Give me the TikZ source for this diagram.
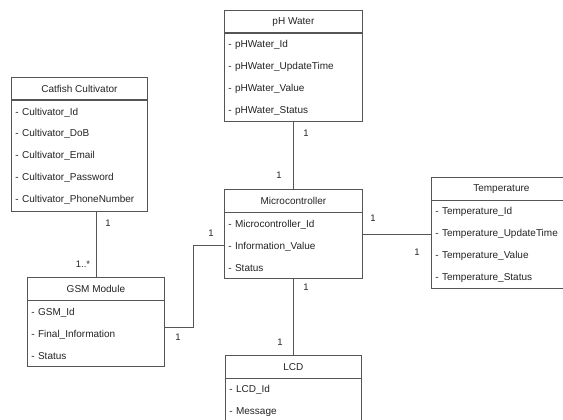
\documentclass[tikz,border=0pt]{standalone}
\usepackage{fontspec}
\setmainfont{Liberation Sans}
\usetikzlibrary{positioning, fit, calc}
\definecolor{umlline}{RGB}{85,85,85}
\definecolor{umltext}{RGB}{35,35,35}
\tikzset{
  classhead/.style={rectangle, draw=umlline, anchor=north west,
    minimum height=22.5pt, inner sep=0pt, text=umltext,
    font=\fontsize{10}{12}\selectfont, line width=0.8pt},
  classbody/.style={rectangle, draw=umlline, minimum height=#1,
    inner xsep=4pt, inner ysep=0pt, align=left, text=umltext,
    font=\fontsize{10}{21.9}\selectfont, line width=0.8pt},
  classbox/.style={inner sep=0pt},
  link/.style={draw=umlline, line width=0.8pt},
  mult/.style={font=\fontsize{9.5}{11}\selectfont, text=umltext}
}

\begin{document}
\begin{tikzpicture}[x=1pt, y=-1pt]
  \useasboundingbox (0,0) rectangle (563,420);
  \clip (0,0) rectangle (563,420);

  % ── Catfish Cultivator ─────────────────────────────────────────────────────
  \node[classhead, minimum width=136pt] (cult head) at (11,77) {Catfish Cultivator};
  \node[classbody=111pt, text width=128pt, below=0pt of cult head] (cult body)
    {- Cultivator\_Id\\- Cultivator\_DoB\\- Cultivator\_Email\\- Cultivator\_Password\\- Cultivator\_PhoneNumber};
  \node[classbox, fit=(cult head)(cult body)] (cult) {};

  % ── pH Water ───────────────────────────────────────────────────────────────
  \node[classhead, minimum width=138pt] (ph head) at (224,10) {pH Water};
  \node[classbody=88pt, text width=130pt, below=0pt of ph head] (ph body)
    {- pHWater\_Id\\- pHWater\_UpdateTime\\- pHWater\_Value\\- pHWater\_Status};
  \node[classbox, fit=(ph head)(ph body)] (ph) {};

  % ── Microcontroller ────────────────────────────────────────────────────────
  \node[classhead, minimum width=138pt] (micro head) at (224,189) {Microcontroller};
  \node[classbody=66pt, text width=130pt, below=0pt of micro head] (micro body)
    {- Microcontroller\_Id\\- Information\_Value\\- Status};
  \node[classbox, fit=(micro head)(micro body)] (micro) {};

  % ── Temperature ────────────────────────────────────────────────────────────
  \node[classhead, minimum width=140pt] (temp head) at (431,177) {Temperature};
  \node[classbody=88pt, text width=132pt, below=0pt of temp head] (temp body)
    {- Temperature\_Id\\- Temperature\_UpdateTime\\- Temperature\_Value\\- Temperature\_Status};
  \node[classbox, fit=(temp head)(temp body)] (temp) {};

  % ── GSM Module ─────────────────────────────────────────────────────────────
  \node[classhead, minimum width=137pt] (gsm head) at (27,277) {GSM Module};
  \node[classbody=66pt, text width=129pt, below=0pt of gsm head] (gsm body)
    {- GSM\_Id\\- Final\_Information\\- Status};
  \node[classbox, fit=(gsm head)(gsm body)] (gsm) {};

  % ── LCD ────────────────────────────────────────────────────────────────────
  \node[classhead, minimum width=136pt] (lcd head) at (225,355) {LCD};
  \node[classbody=44pt, text width=128pt, below=0pt of lcd head] (lcd body)
    {- LCD\_Id\\- Message};
  \node[classbox, fit=(lcd head)(lcd body)] (lcd) {};

  % ── Associations ───────────────────────────────────────────────────────────
  \draw[link] (gsm.north) -- (gsm.north |- cult.south);
  \node[mult] (m cult) at (108,223) {1};
  \node[mult] (m gsm up) at (83,264) {1..*};

  \draw[link] (ph.south) -- (micro.north);
  \node[mult] (m ph) at (306,133) {1};
  \node[mult] (m micro up) at (279,175) {1};

  \draw[link] (micro.east) -- (micro.east -| temp.west);
  \node[mult] (m micro right) at (373,218) {1};
  \node[mult] (m temp) at (417,252) {1};

  \draw[link] ([yshift=-5pt]gsm.east) -| ($(micro body.west)+(-31,0)$) -- (micro body.west);
  \node[mult] (m gsm right) at (178,337) {1};
  \node[mult] (m micro left) at (211,233) {1};

  \draw[link] (micro.south) -- (lcd.north);
  \node[mult] (m micro down) at (306,287) {1};
  \node[mult] (m lcd) at (280,342) {1};
\end{tikzpicture}
\end{document}
